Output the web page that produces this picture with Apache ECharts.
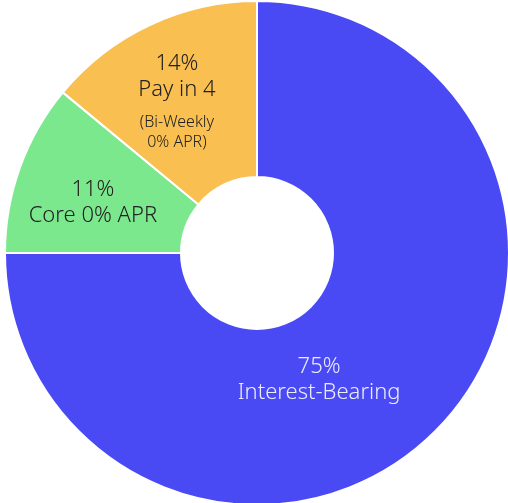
<!DOCTYPE html>
<html>
<head>
<meta charset="utf-8">
<style>
  html, body { margin: 0; padding: 0; background: #ffffff; }
  #chart { width: 508px; height: 503px; }
</style>
<script src="https://cdn.jsdelivr.net/npm/echarts@6/dist/echarts.min.js"></script>
</head>
<body>
<div id="chart"></div>
<script>
// Share of loan volume by product type, drawn clockwise from 12 o'clock
const categories = ['Interest-Bearing', 'Core 0% APR', 'Pay in 4'];
const shares = [75, 11, 14];
const sliceColors = ['#4a4af4', '#7ce88e', '#f9bf50'];

const chart = echarts.init(document.getElementById('chart'), null, { renderer: 'canvas' });

const FONT = '"Noto Sans", "Open Sans", sans-serif';

// Per-slice label layout (offset from the slice's mid-ring point) and styling
const labelStyles = [
  {
    offset: [-56, 9],
    color: '#ececff',
    formatter: p => '{a|' + p.value + '%}\n{a|' + p.name + '}'
  },
  {
    offset: [-7, 6],
    color: '#222222',
    formatter: p => '{a|' + p.value + '%}\n{a|' + p.name + '}'
  },
  {
    offset: [-9, 0],
    color: '#222222',
    formatter: p => '{a|' + p.value + '%}\n{a|' + p.name + '}\n{s| }\n{b|(Bi-Weekly}\n{b|0% APR)}'
  }
];

const data = categories.map((name, i) => ({
  name: name,
  value: shares[i],
  itemStyle: { color: sliceColors[i] },
  label: {
    show: true,
    position: 'inside',
    offset: labelStyles[i].offset,
    formatter: labelStyles[i].formatter,
    color: labelStyles[i].color,
    rich: {
      a: { fontSize: 22, lineHeight: 26, fontFamily: FONT, color: labelStyles[i].color, fontWeight: 300 },
      s: { fontSize: 8, lineHeight: 10 },
      b: { fontSize: 16, lineHeight: 20, fontFamily: FONT, color: labelStyles[i].color, fontWeight: 300 }
    }
  }
}));

chart.setOption({
  animation: false,
  series: [{
    type: 'pie',
    center: [257, 253],
    radius: [76, 252],
    startAngle: 90,
    clockwise: true,
    avoidLabelOverlap: false,
    itemStyle: { borderColor: '#ffffff', borderWidth: 2 },
    labelLine: { show: false },
    emphasis: { disabled: true },
    data: data
  }]
});
</script>
</body>
</html>
